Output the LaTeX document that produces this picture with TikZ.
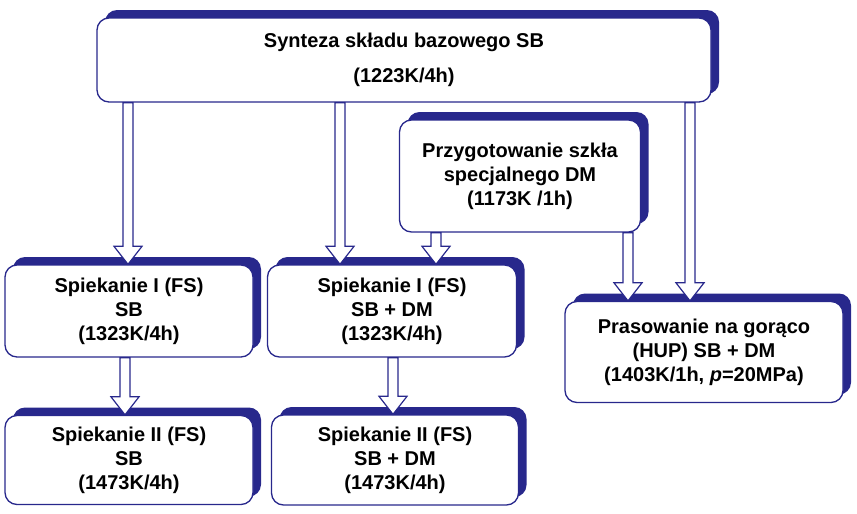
\documentclass[tikz,border=0pt]{standalone}
\usepackage{fontspec}
\setmainfont{Liberation Sans}
\usetikzlibrary{calc,shadows}
\definecolor{navy}{RGB}{40,40,140}
\tikzset{
  box/.style={draw=navy, line width=1pt, fill=white, rounded corners=9pt, align=center,
    font=\bfseries\fontsize{15}{18}\selectfont,
    drop shadow={shadow xshift=6pt, shadow yshift=6pt, fill=navy, opacity=1}},
  harr/.style={draw=navy, line width=0.9pt, fill=white}
}
% hollow arrow from (#1) down to (#2)
\newcommand{\harrow}[2]{\draw[harr] let \p1=(#1), \p2=(#2) in
  (\x1-3.75pt,\y1) -- (\x1-3.75pt,\y2-13.5pt) -- (\x1-10.5pt,\y2-13.5pt) -- (\x1,\y2)
  -- (\x1+10.5pt,\y2-13.5pt) -- (\x1+3.75pt,\y2-13.5pt) -- (\x1+3.75pt,\y1) -- cycle;}
\begin{document}
\begin{tikzpicture}[x=0.75pt,y=0.75pt,yscale=-1,xscale=1]
\useasboundingbox (0,0) rectangle (857,514);

% boxes
\node[box, minimum width=614*0.75pt, minimum height=84*0.75pt] (synt) at (404,60)
  {Synteza składu bazowego SB\\[8pt](1223K/4h)};
\node[box, minimum width=241*0.75pt, minimum height=112*0.75pt] (przyg) at (520,176)
  {Przygotowanie szkła\\specjalnego DM\\(1173K /1h)};
\node[box, minimum width=248*0.75pt, minimum height=92*0.75pt] (sp1) at (129,311)
  {Spiekanie I (FS)\\SB\\(1323K/4h)};
\node[box, minimum width=249*0.75pt, minimum height=92*0.75pt] (sp2) at (392,311)
  {Spiekanie I (FS)\\SB + DM\\(1323K/4h)};
\node[box, minimum width=278*0.75pt, minimum height=101*0.75pt] (pras) at (704,352)
  {Prasowanie na gorąco\\(HUP) SB + DM\\(1403K/1h, \textit{p}=20MPa)};
\node[box, minimum width=248*0.75pt, minimum height=89*0.75pt] (sp3) at (129,460)
  {Spiekanie II (FS)\\SB\\(1473K/4h)};
\node[box, minimum width=247*0.75pt, minimum height=90*0.75pt] (sp4) at (395,460)
  {Spiekanie II (FS)\\SB + DM\\(1473K/4h)};

% arrow columns
\coordinate (c1) at (128,0);
\coordinate (c2) at (340,0);
\coordinate (c3) at (690,0);
\coordinate (c4) at (436,0);
\coordinate (c5) at (628,0);
\coordinate (c6) at (125,0);
\coordinate (c7) at (393,0);

% arrows
\harrow{synt.south -| c1}{sp1.north -| c1}
\harrow{synt.south -| c2}{sp2.north -| c2}
\harrow{synt.south -| c3}{pras.north -| c3}
\harrow{przyg.south -| c4}{sp2.north -| c4}
\harrow{przyg.south -| c5}{pras.north -| c5}
\harrow{sp1.south -| c6}{sp3.north -| c6}
\harrow{sp2.south -| c7}{sp4.north -| c7}

\end{tikzpicture}
\end{document}
